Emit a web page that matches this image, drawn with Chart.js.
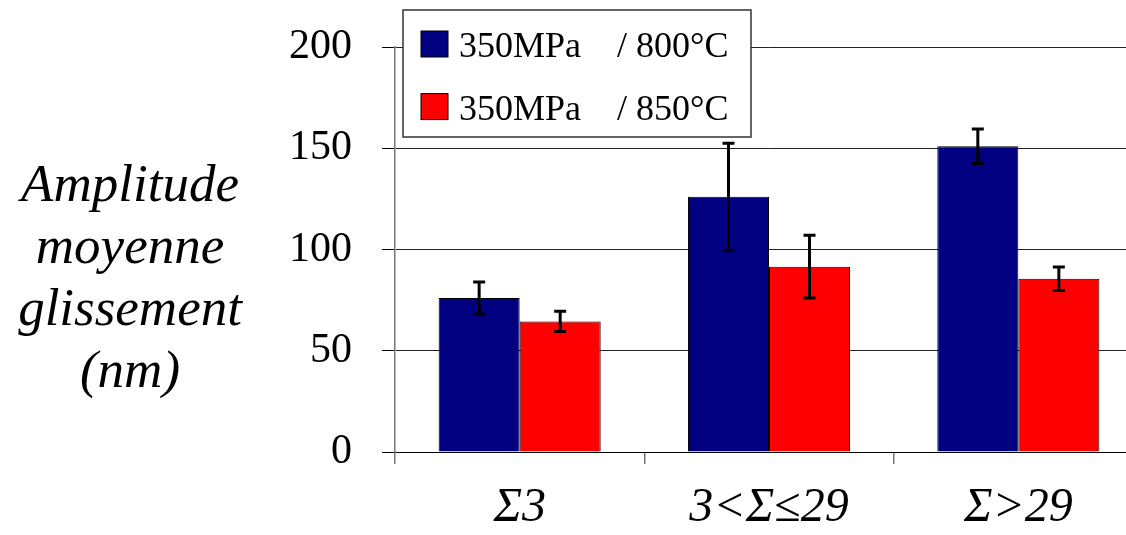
<!DOCTYPE html>
<html>
<head>
<meta charset="utf-8">
<script src="https://cdn.jsdelivr.net/npm/chart.js@4"></script>
<style>
  html, body { margin: 0; padding: 0; background: #fff; overflow: hidden; }
  #wrap { width: 1126px; height: 535px; overflow: hidden; }
</style>
</head>
<body>
<div id="wrap"><canvas id="chart" width="1150" height="535"></canvas></div>
<script>
// mean slip amplitude per boundary class, with standard deviations
const categories = ['Σ3', '3<Σ≤29', 'Σ>29'];
const amplitude800 = [76, 126, 151];
const error800 = [8, 26.5, 8.5];
const amplitude850 = [64.5, 91.5, 85.5];
const error850 = [5, 15.5, 5.8];
const seriesLabels = ['350MPa    / 800°C', '350MPa    / 850°C'];
const yTicks = [0, 50, 100, 150, 200];
const yTitleLines = ['Amplitude', 'moyenne', 'glissement', '(nm)'];

const serif = "'Liberation Serif', serif";

// black error bars with caps, centred on each bar
const errorBars = {
    id: 'errorBars',
    afterDatasetsDraw(chart) {
        const { ctx, scales: { y } } = chart;
        ctx.save();
        ctx.strokeStyle = '#000';
        ctx.lineWidth = 3;
        chart.data.datasets.forEach((ds, i) => {
            chart.getDatasetMeta(i).data.forEach((bar, j) => {
                const v = ds.data[j];
                const e = ds.errors[j];
                const top = y.getPixelForValue(v + e);
                const bot = y.getPixelForValue(v - e);
                ctx.beginPath();
                ctx.moveTo(bar.x, top); ctx.lineTo(bar.x, bot);
                ctx.moveTo(bar.x - 6, top); ctx.lineTo(bar.x + 6, top);
                ctx.moveTo(bar.x - 6, bot); ctx.lineTo(bar.x + 6, bot);
                ctx.stroke();
            });
        });
        ctx.restore();
    }
};

// boxed legend in the top-left corner of the plot
const boxLegend = {
    id: 'boxLegend',
    afterDraw(chart) {
        const { ctx, chartArea } = chart;
        const x = chartArea.left + 8;
        const y = 10;
        ctx.save();
        ctx.fillStyle = '#fff';
        ctx.fillRect(x, y, 348, 127);
        ctx.strokeStyle = '#333';
        ctx.lineWidth = 1.5;
        ctx.strokeRect(x, y, 348, 127);
        ctx.font = '36px ' + serif;
        ctx.textBaseline = 'alphabetic';
        chart.data.datasets.forEach((ds, i) => {
            const sy = y + 21 + i * 62.6;
            ctx.fillStyle = ds.backgroundColor;
            ctx.fillRect(x + 18, sy, 27, 26);
            ctx.strokeStyle = '#000';
            ctx.lineWidth = 1;
            ctx.strokeRect(x + 18, sy, 27, 26);
            ctx.fillStyle = '#000';
            ctx.fillText(ds.label, x + 56, sy + 26);
        });
        ctx.restore();
    }
};

// multi-line y-axis title, not rotated
const sideTitle = {
    id: 'sideTitle',
    afterDraw(chart) {
        const { ctx } = chart;
        ctx.save();
        ctx.font = 'italic 53px ' + serif;
        ctx.fillStyle = '#000';
        ctx.textAlign = 'center';
        ctx.textBaseline = 'alphabetic';
        yTitleLines.forEach((line, i) => {
            ctx.fillText(line, 130, 201 + i * 62);
        });
        ctx.restore();
    }
};

new Chart(document.getElementById('chart'), {
    type: 'bar',
    data: {
        labels: categories,
        datasets: [
            {
                label: seriesLabels[0],
                data: amplitude800,
                errors: error800,
                backgroundColor: '#000080',
                borderColor: '#000',
                borderWidth: 1,
                barPercentage: 1.0,
                categoryPercentage: 0.65,
            },
            {
                label: seriesLabels[1],
                data: amplitude850,
                errors: error850,
                backgroundColor: '#ff0000',
                borderColor: '#000',
                borderWidth: 1,
                barPercentage: 1.0,
                categoryPercentage: 0.65,
            },
        ],
    },
    options: {
        responsive: false,
        animation: false,
        layout: { padding: { top: 47, right: 7, left: 0, bottom: 0 } },
        plugins: {
            legend: { display: false },
            tooltip: { enabled: false },
        },
        scales: {
            x: {
                offset: true,
                grid: {
                    offset: true,
                    drawOnChartArea: false,
                    drawTicks: true,
                    tickLength: 12,
                    color: '#777',
                    lineWidth: 1.5,
                },
                border: { color: '#000', width: 1 },
                ticks: {
                    color: '#000',
                    padding: 16,
                    font: { family: serif, size: 48, style: 'italic' },
                },
                afterFit: (s) => { s.height = 83; },
            },
            y: {
                min: 0,
                max: 200,
                afterBuildTicks: (s) => { s.ticks = yTicks.map((v) => ({ value: v })); },
                grid: {
                    color: '#222',
                    lineWidth: 1,
                    tickLength: 13,
                    tickColor: '#000',
                },
                border: { color: '#777', width: 1.5 },
                ticks: {
                    color: '#000',
                    padding: 30,
                    font: { family: serif, size: 42 },
                },
                afterFit: (s) => {
                    s.width = 395;
                    s.paddingTop = 0;
                    s.paddingBottom = 0;
                },
            },
        },
    },
    plugins: [errorBars, boxLegend, sideTitle],
});
</script>
</body>
</html>
